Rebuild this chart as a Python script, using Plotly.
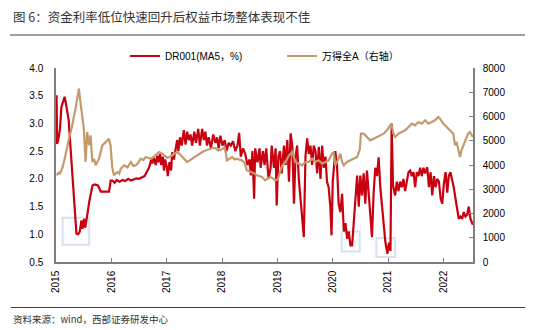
import plotly.graph_objects as go

# ---------------- data ----------------
dr001 = [
    ("2015-01-05", 3.51), ("2015-01-08", 2.63), ("2015-01-16", 2.70), ("2015-01-27", 2.90),
    ("2015-02-06", 3.30), ("2015-02-27", 3.48), ("2015-03-08", 3.35), ("2015-03-15", 3.20),
    ("2015-03-26", 3.05), ("2015-04-06", 2.60), ("2015-04-21", 2.05), ("2015-05-01", 1.58),
    ("2015-05-16", 1.01), ("2015-05-27", 1.00), ("2015-06-07", 1.05), ("2015-06-18", 1.25),
    ("2015-06-25", 1.10), ("2015-07-06", 1.28), ("2015-07-13", 1.12), ("2015-07-24", 1.30),
    ("2015-08-08", 1.58), ("2015-08-30", 1.88), ("2015-09-13", 1.90), ("2015-10-05", 1.88),
    ("2015-10-24", 1.77), ("2015-12-17", 1.77), ("2015-12-28", 1.97),
    ("2016-01-08", 1.97), ("2016-01-23", 1.93), ("2016-02-06", 1.98), ("2016-02-25", 1.95),
    ("2016-03-15", 1.98), ("2016-04-02", 1.96), ("2016-04-21", 2.00), ("2016-05-09", 1.97),
    ("2016-05-27", 1.99), ("2016-06-14", 2.01), ("2016-07-02", 2.00), ("2016-07-24", 2.03),
    ("2016-08-08", 2.05), ("2016-08-23", 2.13), ("2016-09-06", 2.20), ("2016-09-21", 2.35),
    ("2016-09-28", 2.28), ("2016-10-09", 2.38), ("2016-10-20", 2.25), ("2016-10-31", 2.42),
    ("2016-11-07", 2.30), ("2016-11-18", 2.45), ("2016-11-25", 2.25), ("2016-12-06", 2.40),
    ("2016-12-14", 2.15), ("2016-12-21", 2.35),
    ("2017-01-02", 2.20), ("2017-01-08", 2.05), ("2017-01-19", 2.30), ("2017-01-30", 2.15),
    ("2017-02-06", 2.48), ("2017-02-17", 2.35), ("2017-02-28", 2.55), ("2017-03-11", 2.70),
    ("2017-03-19", 2.50), ("2017-03-30", 2.75), ("2017-04-10", 2.60), ("2017-04-24", 2.88),
    ("2017-05-05", 2.62), ("2017-05-16", 2.85), ("2017-05-27", 2.70), ("2017-06-07", 2.80),
    ("2017-06-18", 2.60), ("2017-07-02", 2.85), ("2017-07-13", 2.65), ("2017-07-28", 2.90),
    ("2017-08-08", 2.60), ("2017-08-23", 2.90), ("2017-09-03", 2.70), ("2017-09-13", 2.85),
    ("2017-09-24", 2.60), ("2017-10-05", 2.75), ("2017-10-20", 2.55), ("2017-11-04", 2.80),
    ("2017-11-18", 2.65), ("2017-11-29", 2.75), ("2017-12-10", 2.55), ("2017-12-21", 2.78),
    ("2018-01-04", 2.60), ("2018-01-19", 2.70), ("2018-01-30", 2.50), ("2018-02-14", 2.65),
    ("2018-02-28", 2.60), ("2018-03-15", 2.68), ("2018-03-30", 2.50), ("2018-04-13", 2.60),
    ("2018-04-24", 2.83), ("2018-05-05", 2.40), ("2018-05-20", 2.55), ("2018-06-03", 2.45),
    ("2018-06-18", 2.25), ("2018-07-02", 2.35), ("2018-07-10", 2.06), ("2018-07-21", 2.50),
    ("2018-08-01", 1.64), ("2018-08-08", 2.55), ("2018-08-23", 2.30), ("2018-09-06", 2.55),
    ("2018-09-13", 2.20), ("2018-09-28", 2.50), ("2018-10-09", 2.25), ("2018-10-20", 2.55),
    ("2018-11-04", 2.00), ("2018-11-18", 2.20), ("2018-11-25", 2.60), ("2018-12-10", 2.20),
    ("2018-12-21", 2.55), ("2018-12-28", 1.52),
    ("2019-01-08", 2.40), ("2019-01-19", 2.50), ("2019-01-30", 2.10), ("2019-02-14", 2.60),
    ("2019-02-25", 2.25), ("2019-03-08", 2.70), ("2019-03-19", 1.95), ("2019-03-30", 2.82),
    ("2019-04-10", 2.60), ("2019-04-21", 1.55), ("2019-05-01", 2.40), ("2019-05-12", 2.60),
    ("2019-05-23", 2.00), ("2019-06-03", 1.60), ("2019-06-25", 0.95), ("2019-07-06", 2.40),
    ("2019-07-17", 2.73), ("2019-07-28", 2.45), ("2019-08-08", 2.60), ("2019-08-19", 2.25),
    ("2019-08-30", 2.60), ("2019-09-10", 2.50), ("2019-09-21", 2.10), ("2019-10-02", 2.58),
    ("2019-10-13", 2.00), ("2019-10-24", 2.60), ("2019-11-04", 2.20), ("2019-11-15", 2.40),
    ("2019-11-25", 1.95), ("2019-12-06", 1.85), ("2019-12-17", 1.50), ("2019-12-25", 0.98),
    ("2020-01-02", 1.95), ("2020-01-19", 2.50), ("2020-01-30", 2.25), ("2020-02-10", 1.55),
    ("2020-02-21", 1.40), ("2020-03-04", 1.73), ("2020-03-15", 1.05), ("2020-03-26", 1.20),
    ("2020-04-06", 0.92), ("2020-04-17", 1.05), ("2020-04-28", 0.80), ("2020-05-09", 0.80),
    ("2020-05-20", 1.25), ("2020-05-31", 1.80), ("2020-06-11", 2.06), ("2020-06-22", 1.50),
    ("2020-07-02", 2.06), ("2020-07-13", 1.70), ("2020-07-24", 2.10), ("2020-08-04", 1.55),
    ("2020-08-15", 2.15), ("2020-08-26", 1.75), ("2020-09-06", 1.40), ("2020-09-17", 0.95),
    ("2020-09-28", 1.75), ("2020-10-09", 2.20), ("2020-10-20", 2.05), ("2020-10-31", 2.39),
    ("2020-11-11", 1.85), ("2020-11-22", 1.52), ("2020-12-03", 1.20), ("2020-12-14", 0.87),
    ("2020-12-28", 0.65), ("2021-01-08", 0.85), ("2021-01-17", 0.70), ("2021-01-25", 3.00),
    ("2021-02-03", 1.88), ("2021-02-17", 1.70), ("2021-02-28", 1.95), ("2021-03-11", 1.78),
    ("2021-03-22", 1.95), ("2021-04-02", 1.85), ("2021-04-13", 2.00), ("2021-04-24", 1.78),
    ("2021-05-05", 1.95), ("2021-05-16", 2.12), ("2021-05-27", 2.15), ("2021-06-07", 2.05),
    ("2021-06-18", 2.12), ("2021-06-29", 1.85), ("2021-07-10", 2.12), ("2021-07-21", 2.05),
    ("2021-08-01", 2.20), ("2021-08-12", 2.05), ("2021-08-23", 2.20), ("2021-09-03", 2.10),
    ("2021-09-17", 2.21), ("2021-09-28", 1.85), ("2021-10-09", 2.12), ("2021-10-20", 1.70),
    ("2021-10-31", 2.05), ("2021-11-11", 1.85), ("2021-11-22", 2.00), ("2021-12-03", 1.95),
    ("2021-12-14", 1.65), ("2021-12-25", 1.55),
    ("2022-01-04", 1.90), ("2022-01-16", 2.12), ("2022-01-27", 1.75), ("2022-02-06", 2.05),
    ("2022-02-17", 2.12), ("2022-02-28", 2.00), ("2022-03-11", 1.85), ("2022-03-22", 1.65),
    ("2022-04-02", 1.45), ("2022-04-13", 1.28), ("2022-04-24", 1.32), ("2022-05-05", 1.28),
    ("2022-05-16", 1.40), ("2022-05-27", 1.32), ("2022-06-07", 1.35), ("2022-06-18", 1.50),
    ("2022-06-29", 1.28), ("2022-07-10", 1.20), ("2022-07-15", 1.17),
]

wind_a = [
    ("2015-01-05", 3575), ("2015-01-12", 3620), ("2015-01-19", 3680), ("2015-01-27", 3650),
    ("2015-02-06", 3800), ("2015-02-14", 3917), ("2015-02-25", 4200), ("2015-03-08", 4536),
    ("2015-03-22", 4900), ("2015-04-02", 5223), ("2015-04-17", 5600), ("2015-04-28", 5910),
    ("2015-05-12", 6400), ("2015-05-21", 6735), ("2015-06-01", 7150), ("2015-06-11", 6600),
    ("2015-06-23", 5910), ("2015-07-04", 5500), ("2015-07-15", 4124), ("2015-07-26", 5360),
    ("2015-08-07", 4810), ("2015-08-17", 5220), ("2015-08-29", 4124), ("2015-09-09", 4260),
    ("2015-09-20", 3987), ("2015-10-12", 4260), ("2015-11-03", 4810), ("2015-11-25", 4950),
    ("2015-12-16", 5085), ("2015-12-27", 4810),
    ("2016-01-07", 3920), ("2016-01-18", 3575), ("2016-02-10", 3711), ("2016-02-22", 3640),
    ("2016-03-04", 3849), ("2016-03-26", 3987), ("2016-04-17", 3900), ("2016-05-09", 4124),
    ("2016-05-25", 3960), ("2016-06-11", 3987), ("2016-06-28", 4100), ("2016-07-13", 4261),
    ("2016-07-30", 4200), ("2016-08-15", 4330), ("2016-09-01", 4290), ("2016-09-17", 4261),
    ("2016-10-05", 4330), ("2016-10-20", 4400), ("2016-11-11", 4536), ("2016-12-03", 4470),
    ("2017-01-04", 4300), ("2017-01-20", 4330), ("2017-02-06", 4400), ("2017-02-22", 4460),
    ("2017-03-11", 4536), ("2017-03-27", 4450), ("2017-04-13", 4330), ("2017-05-01", 4200),
    ("2017-05-16", 4124), ("2017-06-02", 4190), ("2017-06-18", 4261), ("2017-07-05", 4330),
    ("2017-07-21", 4400), ("2017-08-07", 4470), ("2017-08-23", 4536), ("2017-09-15", 4600),
    ("2017-10-05", 4646), ("2017-10-26", 4690), ("2017-11-18", 4700), ("2017-12-08", 4600),
    ("2018-01-02", 4646), ("2018-01-19", 4742), ("2018-02-03", 4193), ("2018-02-20", 4260),
    ("2018-03-08", 4330), ("2018-03-25", 4230), ("2018-04-10", 4261), ("2018-04-26", 4220),
    ("2018-05-12", 4193), ("2018-05-28", 4100), ("2018-06-14", 3780), ("2018-07-01", 3740),
    ("2018-07-17", 3711), ("2018-08-03", 3650), ("2018-08-19", 3574), ("2018-09-05", 3540),
    ("2018-09-21", 3505), ("2018-10-13", 3368), ("2018-10-30", 3450), ("2018-11-15", 3505),
    ("2018-12-01", 3460), ("2018-12-17", 3368), ("2019-01-03", 3400),
    ("2019-01-12", 3600), ("2019-02-03", 3987), ("2019-02-25", 4124), ("2019-03-19", 4400),
    ("2019-04-10", 4536), ("2019-04-21", 4330), ("2019-05-01", 4124), ("2019-05-23", 4054),
    ("2019-06-14", 3987), ("2019-07-06", 4124), ("2019-07-28", 4124), ("2019-08-19", 4261),
    ("2019-09-10", 4124), ("2019-10-02", 4193), ("2019-10-24", 4054), ("2019-11-15", 4124),
    ("2019-12-06", 4193), ("2019-12-28", 4467),
    ("2020-01-08", 4536), ("2020-01-19", 3987), ("2020-02-10", 4261), ("2020-02-21", 4467),
    ("2020-03-04", 4124), ("2020-03-15", 3987), ("2020-04-06", 4124), ("2020-04-28", 4193),
    ("2020-05-20", 4261), ("2020-06-11", 4330), ("2020-06-29", 4646), ("2020-07-06", 5292),
    ("2020-07-24", 5292), ("2020-08-15", 5155), ("2020-09-06", 5018), ("2020-09-28", 5086),
    ("2020-10-20", 5155), ("2020-11-11", 5223), ("2020-12-03", 5292), ("2020-12-25", 5430),
    ("2021-01-06", 5567), ("2021-01-23", 5704), ("2021-02-06", 5292), ("2021-02-17", 5155),
    ("2021-03-11", 5292), ("2021-04-02", 5361), ("2021-04-24", 5430), ("2021-05-16", 5567),
    ("2021-06-07", 5704), ("2021-06-29", 5636), ("2021-07-21", 5773), ("2021-08-12", 5704),
    ("2021-09-03", 5842), ("2021-09-24", 5704), ("2021-10-16", 5773), ("2021-11-07", 5842),
    ("2021-11-29", 5979), ("2021-12-10", 5910),
    ("2022-01-02", 5704), ("2022-01-23", 5567), ("2022-02-14", 5430), ("2022-03-08", 5292),
    ("2022-03-19", 4812), ("2022-03-30", 4950), ("2022-04-21", 4330), ("2022-05-01", 4605),
    ("2022-05-23", 4950), ("2022-06-14", 5292), ("2022-06-25", 5361), ("2022-07-15", 5155),
]

year_ticks = ["2015-01-01", "2016-01-01", "2017-01-01", "2018-01-01",
              "2019-01-01", "2020-01-01", "2021-01-01", "2022-01-01"]
year_labels = ["2015", "2016", "2017", "2018", "2019", "2020", "2021", "2022"]

# highlight boxes: (x0, x1, y0, y1) on left axis
boxes = [
    ("2015-02-14", "2015-08-08", 0.81, 1.30),
    ("2020-03-01", "2020-06-28", 0.69, 1.05),
    ("2020-10-16", "2021-02-15", 0.59, 0.93),
]

title_text = "图 6：资金利率低位快速回升后权益市场整体表现不佳"
source_text = "资料来源：wind，西部证券研发中心"
name_dr = "DR001(MA5，%)"
name_wa = "万得全A（右轴）"

# ---------------- figure ----------------
W, H = 550, 330
L, R, T, B = 56, 473, 68, 262


def px(x):
    return (x - L) / (R - L)


def py(y):
    return (B - y) / (B - T)


FONT = "Liberation Sans, Arial, Noto Sans CJK SC, sans-serif"
CJK = "Noto Sans CJK SC, Liberation Sans, sans-serif"
RED = "#C8000F"
TAN = "#C49A6C"
AXC = "#7F7F7F"

dr_x = [d for d, _ in dr001]
dr_y = [v for _, v in dr001]
wa_x = [d for d, _ in wind_a]
wa_y = [v for _, v in wind_a]

fig = go.Figure()
fig.add_trace(go.Scatter(x=dr_x, y=dr_y, mode="lines", name=name_dr,
                         line=dict(color=RED, width=2.2), yaxis="y"))
fig.add_trace(go.Scatter(x=wa_x, y=wa_y, mode="lines", name=name_wa,
                         line=dict(color=TAN, width=2.2), yaxis="y2"))

shapes = []
for x0, x1, y0, y1 in boxes:
    shapes.append(dict(type="rect", xref="x", yref="y", x0=x0, x1=x1, y0=y0, y1=y1,
                       line=dict(color="#D6E2F0", width=2), fillcolor="rgba(0,0,0,0)",
                       layer="below"))
# title rule and footer rule
shapes.append(dict(type="line", xref="paper", yref="paper", x0=px(10), x1=px(525),
                   y0=py(35), y1=py(35), line=dict(color="#404040", width=1)))
shapes.append(dict(type="line", xref="paper", yref="paper", x0=px(11), x1=px(525),
                   y0=py(307.5), y1=py(307.5), line=dict(color="#404040", width=1)))

annotations = [
    dict(text=title_text, xref="paper", yref="paper", x=px(11), y=py(16),
         xanchor="left", yanchor="middle", showarrow=False,
         font=dict(family=CJK, size=12.5, color="#333333")),
    dict(text=source_text, xref="paper", yref="paper", x=px(11), y=py(318.5),
         xanchor="left", yanchor="middle", showarrow=False,
         font=dict(family=CJK, size=9.5, color="#333333")),
]

fig.update_layout(
    width=W, height=H,
    margin=dict(l=L, r=W - R, t=T, b=H - B, pad=0),
    paper_bgcolor="white", plot_bgcolor="white",
    font=dict(family=FONT, size=10, color="#000000"),
    showlegend=True,
    legend=dict(orientation="h", x=px(125), y=py(56), xanchor="left", yanchor="middle",
                font=dict(family=FONT, size=10, color="#000000"),
                entrywidth=112, entrywidthmode="pixels", itemwidth=30,
                bgcolor="rgba(0,0,0,0)", borderwidth=0),
    shapes=shapes,
    annotations=annotations,
    xaxis=dict(type="date", range=["2015-01-01", "2022-07-16"],
               tickmode="array", tickvals=year_ticks, ticktext=year_labels,
               tickangle=-90, ticks="inside", ticklen=4, tickwidth=1, tickcolor=AXC,
               showline=True, linecolor=AXC, linewidth=1.5, showgrid=False, zeroline=False,
               tickfont=dict(size=10, color="#000000"), ticklabelstandoff=3),
    yaxis=dict(range=[0.5, 4.0], dtick=0.5, tick0=0.5, tickformat=".1f",
               ticks="", showline=True, linecolor=AXC, linewidth=1.5,
               showgrid=False, zeroline=False,
               tickfont=dict(size=10, color="#000000"), ticklabelstandoff=9),
    yaxis2=dict(range=[0, 8000], dtick=1000, tick0=0, overlaying="y", side="right",
                ticks="inside", ticklen=4, tickwidth=1, tickcolor=AXC,
                showline=True, linecolor=AXC, linewidth=1.5,
                showgrid=False, zeroline=False,
                tickfont=dict(size=10, color="#000000"), ticklabelstandoff=6),
)

fig.write_html("out.html")
